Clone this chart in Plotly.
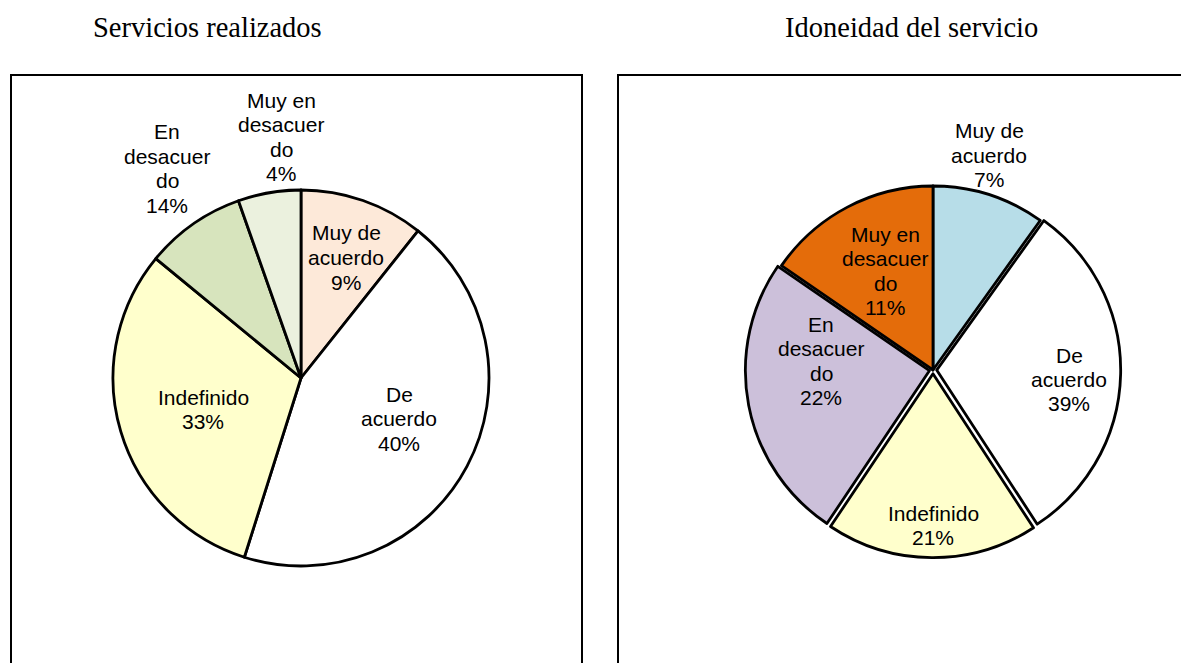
import plotly.graph_objects as go

W, H = 1181, 663

# ---- data ----
categories = ["Muy de acuerdo", "De acuerdo", "Indefinido", "En desacuerdo", "Muy en desacuerdo"]
wrapped_names = [["Muy de", "acuerdo"], ["De", "acuerdo"], ["Indefinido"],
                 ["En", "desacuer", "do"], ["Muy en", "desacuer", "do"]]

# Servicios realizados
s1_labels_pct = [9, 40, 33, 14, 4]              # percentages printed on the chart
s1_shares = [10.7, 44.2, 31.1, 8.65, 5.4]       # slice sizes as drawn
s1_colors = ["#FDE9D9", "#FFFFFF", "#FFFFCC", "#D7E4BD", "#EBF1DE"]

# Idoneidad del servicio
s2_labels_pct = [7, 39, 21, 22, 11]
s2_shares = [9.9, 30.9, 18.6, 25.2, 15.4]
s2_colors = ["#B7DDE8", "#FFFFFF", "#FFFFCC", "#CCC0DA", "#E46C0A"]
s2_pull = [0, 0.02, 0.02, 0.02, 0]

titles = ["Servicios realizados", "Idoneidad del servicio"]

# ---- layout (pixels) ----
PIE1_C, PIE1_R = (301, 378), 188
PIE2_C, PIE2_R = (933, 370), 184
# centre x and first-line y of each data label, in category order
s1_label_pos = [(346, 233), (399, 394), (203, 397), (167, 132), (281, 100)]
s2_label_pos = [(989, 131), (1069, 355), (933, 513), (821, 324), (885, 234)]
LINE_STEP = 24.5


def px(x):
    return x / W


def py(y):
    return 1 - y / H


label_font = dict(family="Liberation Sans, Arial", size=21, color="black")

fig = go.Figure()

fig.add_trace(go.Pie(
    labels=categories, values=s1_shares, textinfo="none",
    sort=False, direction="clockwise", rotation=0,
    marker=dict(colors=s1_colors, line=dict(color="black", width=2.8)),
    domain=dict(x=[px(PIE1_C[0] - PIE1_R), px(PIE1_C[0] + PIE1_R)],
                y=[py(PIE1_C[1] + PIE1_R), py(PIE1_C[1] - PIE1_R)]),
    hoverinfo="label+value", showlegend=False,
))

r2 = PIE2_R * (1 + max(s2_pull))
fig.add_trace(go.Pie(
    labels=categories, values=s2_shares, textinfo="none",
    sort=False, direction="clockwise", rotation=0, pull=s2_pull,
    marker=dict(colors=s2_colors, line=dict(color="black", width=2.8)),
    domain=dict(x=[px(PIE2_C[0] - r2), px(PIE2_C[0] + r2)],
                y=[py(PIE2_C[1] + r2), py(PIE2_C[1] - r2)]),
    hoverinfo="label+value", showlegend=False,
))

# data labels (one text line per annotation to mimic the original line spacing)
for pcts, positions in [(s1_labels_pct, s1_label_pos), (s2_labels_pct, s2_label_pos)]:
    for name_lines, pct, (lx, ly) in zip(wrapped_names, pcts, positions):
        lines = name_lines + [f"{pct}%"]
        for i, line in enumerate(lines):
            fig.add_annotation(text=line, x=px(lx), y=py(ly + i * LINE_STEP),
                               xref="paper", yref="paper", showarrow=False,
                               xanchor="center", yanchor="middle", font=label_font)

# frames
fig.add_shape(type="rect", xref="paper", yref="paper",
              x0=px(11), x1=px(582), y0=py(720), y1=py(75),
              line=dict(color="black", width=2), fillcolor="rgba(0,0,0,0)", layer="below")
fig.add_shape(type="rect", xref="paper", yref="paper",
              x0=px(618), x1=px(1240), y0=py(720), y1=py(75),
              line=dict(color="black", width=2), fillcolor="rgba(0,0,0,0)", layer="below")

# titles
for t, cx in zip(titles, [207, 911]):
    fig.add_annotation(text=t, x=px(cx), y=py(28), xref="paper", yref="paper",
                       showarrow=False, xanchor="center", yanchor="middle",
                       font=dict(family="Liberation Serif, Times New Roman", size=28.5, color="black"))

fig.update_layout(
    width=W, height=H, margin=dict(l=0, r=0, t=0, b=0),
    paper_bgcolor="white", plot_bgcolor="white", showlegend=False,
)

fig.write_html("out.html")
